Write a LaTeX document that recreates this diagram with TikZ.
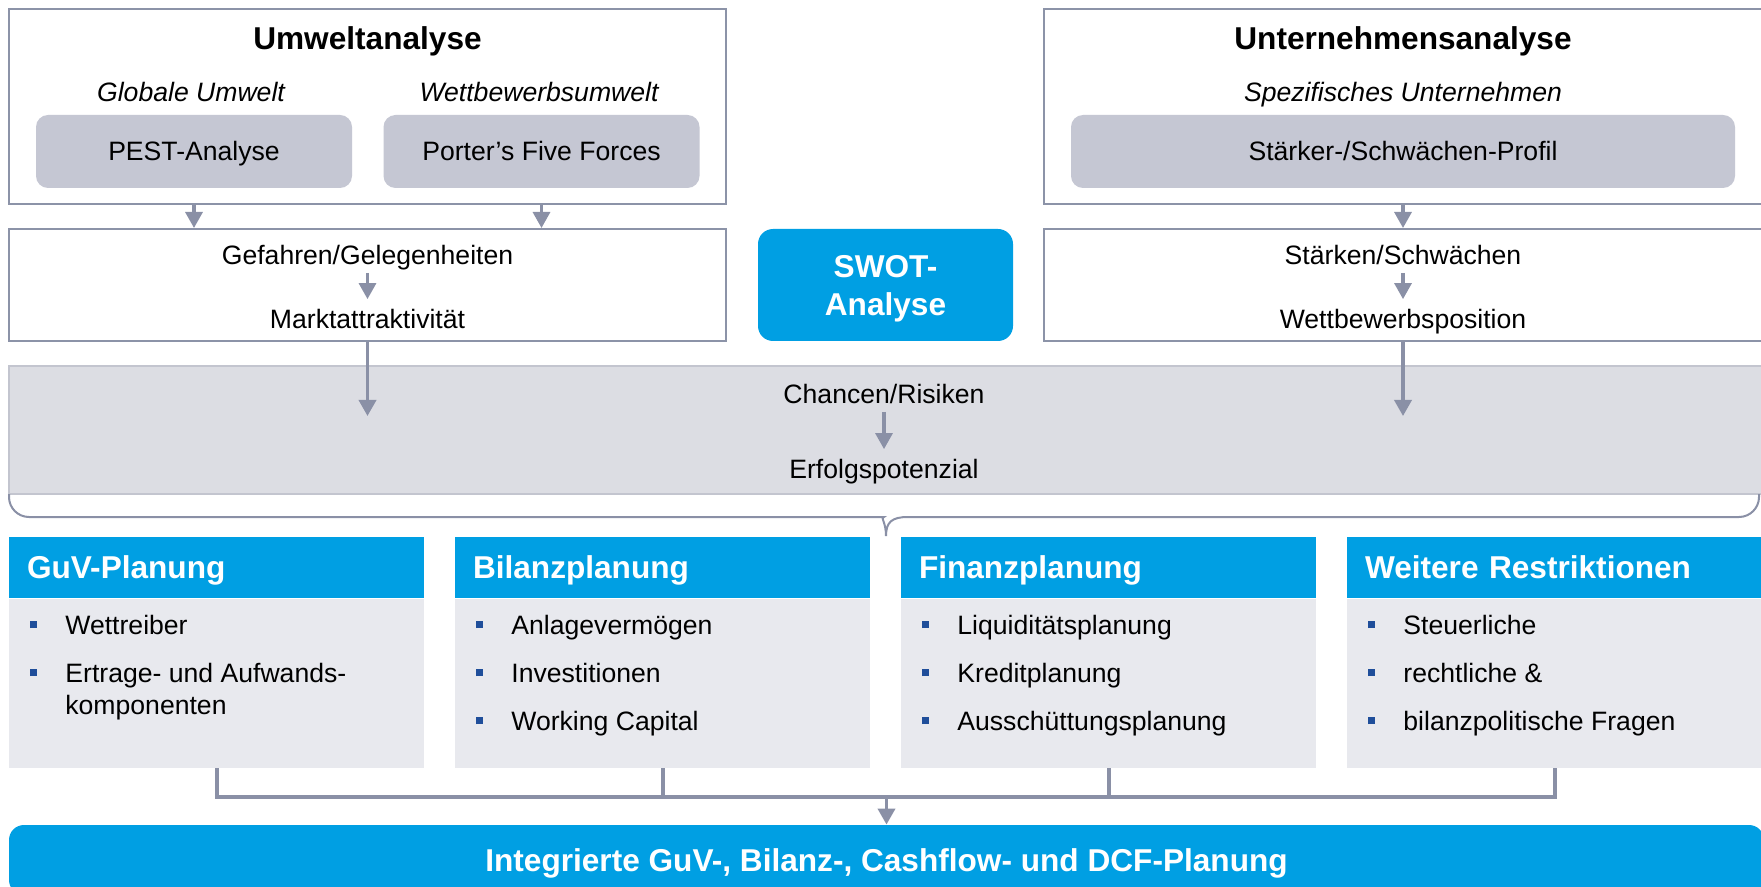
\documentclass[tikz,border=0pt]{standalone}
\usepackage{fontspec}
\setmainfont{Liberation Sans}
\usepackage{xcolor}
\usepackage{tikz}
\usetikzlibrary{positioning,arrows.meta}
\definecolor{skyblue}{HTML}{009FE3}
\definecolor{deepblue}{HTML}{1F4E9A}
\definecolor{frame}{HTML}{8C93A8}
\definecolor{arrowgray}{HTML}{8A90A6}
\definecolor{toolgray}{HTML}{C5C7D3}
\definecolor{bandgray}{HTML}{DCDDE3}
\definecolor{bandline}{HTML}{C3C5CF}
\definecolor{bodygray}{HTML}{E8E9EE}
\newcommand{\planbullet}{\textcolor{deepblue}{\rule[3pt]{3.4pt}{3.4pt}}}
\tikzset{
  titletext/.style={inner sep=0pt, text height=11.3pt, text depth=0pt, font=\fontsize{15.8}{19}\selectfont\bfseries},
  subtext/.style={inner sep=0pt, text height=9.5pt, text depth=0pt, font=\fontsize{13.3}{16}\selectfont\itshape},
  plaintext/.style={inner sep=0pt, text height=9.5pt, text depth=0pt, font=\fontsize{13.3}{16}\selectfont},
  framebox/.style={draw=frame, line width=1pt, fill=white},
  toolbox/.style={fill=toolgray, rounded corners=6pt, text height=9.5pt, text depth=0pt, font=\fontsize{13.3}{16}\selectfont},
  swotbox/.style={fill=skyblue, rounded corners=7.5pt},
  swottext/.style={inner sep=0pt, text=white, align=center, font=\fontsize{15.8}{19}\selectfont\bfseries},
  bandbox/.style={fill=bandgray, draw=bandline, line width=1pt},
  planhead/.style={fill=skyblue, text=white, minimum width=207.5pt, minimum height=30.5pt, text width=189.5pt, inner xsep=9pt, align=left, text height=11.3pt, text depth=0pt, font=\fontsize{15.8}{19}\selectfont\bfseries},
  planbody/.style={fill=bodygray, minimum width=207.5pt, minimum height=84.5pt, inner sep=0pt},
  itemlist/.style={anchor=base west, inner sep=0pt, font=\fontsize{13.3}{16}\selectfont},
  resultbar/.style={fill=skyblue, rounded corners=7.5pt, minimum width=877.5pt, minimum height=35pt},
  resulttext/.style={inner sep=0pt, text=white, text height=11.3pt, text depth=0pt, font=\fontsize{15.8}{19}\selectfont\bfseries},
  smallarrow/.style={-{Triangle[length=8pt,width=8.5pt]}, line width=1.6pt, draw=arrowgray},
  longarrow/.style={-{Triangle[length=8pt,width=8.5pt]}, line width=1.8pt, draw=arrowgray},
  joinline/.style={line width=2pt, draw=arrowgray},
  bracepath/.style={line width=1pt, draw=arrowgray}
}
\begin{document}
\begin{tikzpicture}[x=0.5pt, y=-0.5pt]
  \useasboundingbox (0,0) rectangle (1761,887);
  \clip (0,0) rectangle (1761,887);

  % environment side
  \node[framebox, minimum width=358.5pt, minimum height=97.5pt] (umwelt) at (367.5,106.5) {};
  \node[titletext] (umwelttitle) at (367.5,38) {Umweltanalyse};
  \node[subtext] (globtext) at (191,92) {Globale Umwelt};
  \node[subtext] (wettbtext) at (539,92) {Wettbewerbsumwelt};
  \node[toolbox, minimum width=158pt, minimum height=36.5pt] (pest) at (194,151.5) {PEST-Analyse};
  \node[toolbox, minimum width=158pt, minimum height=36.5pt] (porter) at (541.5,151.5) {Porter’s Five Forces};
  \node[framebox, minimum width=358.5pt, minimum height=56pt] (gefbox) at (367.5,285) {};
  \node[plaintext] (gef) at (367.5,255) {Gefahren/Gelegenheiten};
  \node[plaintext] (markt) at (367.5,319) {Marktattraktivität};

  % SWOT label
  \node[swotbox, minimum width=127.5pt, minimum height=56pt] (swot) at (885.5,285) {};
  \node[swottext] (swottitle) at (885.5,289) {SWOT-\\Analyse};

  % company side
  \node[framebox, minimum width=360pt, minimum height=97.5pt] (untern) at (1404,106.5) {};
  \node[titletext] (unterntitle) at (1403,38) {Unternehmensanalyse};
  \node[subtext] (speztext) at (1403,92) {Spezifisches Unternehmen};
  \node[toolbox, minimum width=332pt, minimum height=36.5pt] (profil) at (1403,151.5) {Stärker-/Schwächen-Profil};
  \node[framebox, minimum width=360pt, minimum height=56pt] (staerkbox) at (1404,285) {};
  \node[plaintext] (staerk) at (1403,255) {Stärken/Schwächen};
  \node[plaintext] (wettbpos) at (1403,319) {Wettbewerbsposition};

  % SWOT result band
  \node[bandbox, minimum width=877.5pt, minimum height=64pt] (band) at (886.5,430) {};
  \node[plaintext] (chancen) at (884,394) {Chancen/Risiken};
  \node[plaintext] (erfolg) at (884,469) {Erfolgspotenzial};
  \coordinate (gefend) at (367.5,416);
  \coordinate (staerkend) at (1403,416);

  \draw[smallarrow] (pest.south |- umwelt.south) -- (pest.south |- gefbox.north);
  \draw[smallarrow] (porter.south |- umwelt.south) -- (porter.south |- gefbox.north);
  \draw[smallarrow] (profil.south |- untern.south) -- (profil.south |- staerkbox.north);
  \draw[smallarrow, shorten <=4pt, shorten >=5pt] (gef) -- (markt);
  \draw[smallarrow, shorten <=4pt, shorten >=5pt] (staerk) -- (wettbpos);
  \draw[smallarrow, shorten <=4pt, shorten >=5pt] (chancen) -- (erfolg);
  \draw[longarrow] (gefbox.south) -- (gefend);
  \draw[longarrow] (gefbox.south -| staerkend) -- (staerkend);

  % brace over the four plans
  \draw[bracepath] (9,494) [rounded corners=10pt] -- (9,517) -- (864,517) [sharp corners]
    .. controls (880,517) and (886,522) .. (886,536)
    .. controls (886,522) and (892,517) .. (908,517) [rounded corners=10pt]
    -- (1759,517) -- (1759,494);

  % planning blocks
  \node[planhead] (guvhead) at (216.5,567.5) {GuV-Planung};
  \node[planhead] (bilanzhead) at (662.5,567.5) {Bilanzplanung};
  \node[planhead] (finanzhead) at (1108.5,567.5) {Finanzplanung};
  \node[planhead] (weiterhead) at (1554.5,567.5) {Weitere Restriktionen};
  \node[planbody, below=0pt of guvhead] (guvbody) {};
  \node[planbody, below=0pt of bilanzhead] (bilanzbody) {};
  \node[planbody, below=0pt of finanzhead] (finanzbody) {};
  \node[planbody, below=0pt of weiterhead] (weiterbody) {};

  \node[itemlist] (guvitems) at (30,634) {\begin{tabular}[t]{@{}p{17.5pt}@{}l@{}}
    \planbullet & Wettreiber\\[8pt]
    \planbullet & Ertrage- und Aufwands-\\
    & komponenten
  \end{tabular}};
  \node[itemlist] (bilanzitems) at (476,634) {\begin{tabular}[t]{@{}p{17.5pt}@{}l@{}}
    \planbullet & Anlagevermögen\\[8pt]
    \planbullet & Investitionen\\[8pt]
    \planbullet & Working Capital
  \end{tabular}};
  \node[itemlist] (finanzitems) at (922,634) {\begin{tabular}[t]{@{}p{17.5pt}@{}l@{}}
    \planbullet & Liquiditätsplanung\\[8pt]
    \planbullet & Kreditplanung\\[8pt]
    \planbullet & Ausschüttungsplanung
  \end{tabular}};
  \node[itemlist] (weiteritems) at (1368,634) {\begin{tabular}[t]{@{}p{17.5pt}@{}l@{}}
    \planbullet & Steuerliche\\[8pt]
    \planbullet & rechtliche \&\\[8pt]
    \planbullet & bilanzpolitische Fragen
  \end{tabular}};

  % integrated plan
  \node[resultbar] (result) at (886.5,860) {};
  \node[resulttext] (resulttitle) at (886.5,860) {Integrierte GuV-, Bilanz-, Cashflow- und DCF-Planung};
  \coordinate (join) at (886.5,797);
  \draw[joinline] (guvbody.south) |- (join);
  \draw[joinline] (bilanzbody.south) |- (join);
  \draw[joinline] (finanzbody.south) |- (join);
  \draw[joinline] (weiterbody.south) |- (join);
  \draw[longarrow] (join) -- (result.north);
\end{tikzpicture}
\end{document}
